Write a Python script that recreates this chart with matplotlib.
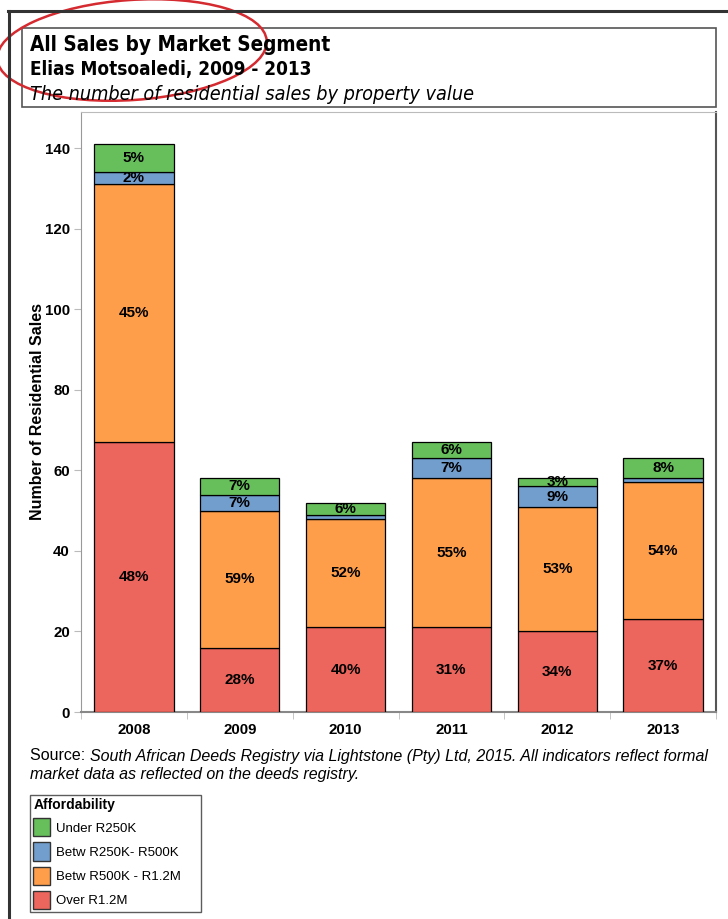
import matplotlib
matplotlib.use("Agg")
import matplotlib.pyplot as plt
from matplotlib.patches import Rectangle, Patch, Ellipse
from matplotlib.lines import Line2D
from matplotlib.transforms import IdentityTransform
import numpy as np

# data
years = ["2008", "2009", "2010", "2011", "2012", "2013"]
over_1_2m = [67, 16, 21, 21, 20, 23]
r500k_1_2m = [64, 34, 27, 37, 31, 34]
r250k_500k = [3, 4, 1, 5, 5, 1]
under_250k = [7, 4, 3, 4, 2, 5]

segment_names = ["Over R1.2M", "Betw R500K - R1.2M", "Betw R250K- R500K", "Under R250K"]
segment_colors = ["#ED665D", "#FF9E4A", "#729ECE", "#67BF5C"]

W, H = 728, 919
SANS = ["Liberation Sans", "DejaVu Sans"]
TITLE_FONT = ["DejaVu Sans"]

def fx(x):
    return x / W

def fy(y):
    return 1 - y / H

fig = plt.figure(figsize=(W / 100, H / 100), dpi=100)

# plot area
ax = fig.add_axes([fx(81), fy(712), fx(716) - fx(81), fy(112) - fy(712)])
x = np.arange(len(years))
series = [over_1_2m, r500k_1_2m, r250k_500k, under_250k]
totals = np.sum(series, axis=0)
bottom = np.zeros(len(years))
for vals, col in zip(series, segment_colors):
    vals = np.array(vals)
    ax.bar(x, vals, 0.75, bottom=bottom, color=col, edgecolor="black", linewidth=0.9, zorder=3)
    for i, v in enumerate(vals):
        if v > 1:
            pct = int(round(v / totals[i] * 100))
            ax.text(x[i], bottom[i] + v / 2, f"{pct}%", ha="center", va="center",
                    fontsize=11, fontweight="bold", family=SANS, zorder=4)
    bottom += vals

ax.set_xlim(-0.5, len(years) - 0.5)
ax.set_ylim(0, 149)
ax.set_yticks(range(0, 141, 20))
ax.set_xticks(x)
ax.set_xticklabels(years)
ax.set_xticks(np.arange(-0.5, len(years)), minor=True)
ax.tick_params(axis="x", which="major", length=0, pad=8)
ax.tick_params(axis="x", which="minor", length=5, color="#bbbbbb", direction="out")
ax.tick_params(axis="y", length=5, color="#bbbbbb", pad=3)
for lab in ax.get_xticklabels() + ax.get_yticklabels():
    lab.set_fontweight("bold")
    lab.set_fontsize(10.8)
    lab.set_family(SANS)
ax.spines["left"].set_color("#999999")
ax.spines["bottom"].set_color("#888888")
ax.spines["bottom"].set_linewidth(1.5)
ax.spines["top"].set_color("#bbbbbb")
ax.spines["right"].set_color("#555555")
ax.spines["right"].set_linewidth(1.5)
ax.set_ylabel("Number of Residential Sales", fontsize=11.5, fontweight="bold", family=SANS)
ax.yaxis.set_label_coords((45 - 81) / 635, 0.5)

# title box
fig.add_artist(Rectangle((fx(22), fy(107)), fx(716) - fx(22), fy(28) - fy(107),
                         transform=fig.transFigure, fill=False, edgecolor="#555555", linewidth=1.2))
fig.text(fx(30), fy(45), "All Sales by Market Segment", fontsize=14.9, fontweight="bold",
         fontstretch="condensed", family=TITLE_FONT, va="center", ha="left")
fig.text(fx(30), fy(70), "Elias Motsoaledi, 2009 - 2013", fontsize=13.6, fontweight="bold",
         fontstretch="condensed", family=TITLE_FONT, va="center", ha="left")
fig.text(fx(30), fy(94), "The number of residential sales by property value", fontsize=14.2,
         fontstretch="condensed", style="italic", family=TITLE_FONT, va="center", ha="left")

# source note
t1 = fig.text(fx(30), fy(756), "Source: ", fontsize=11.5, family=SANS, va="center", ha="left")
ax.annotate("South African Deeds Registry via Lightstone (Pty) Ltd, 2015. All indicators reflect formal",
            xy=(1, 0.5), xycoords=t1, va="center", ha="left", fontsize=11.5, family=SANS,
            style="italic", annotation_clip=False)
fig.text(fx(30), fy(774), "market data as reflected on the deeds registry.", fontsize=11.5, family=SANS,
         style="italic", va="center", ha="left")

# legend
handles = [Patch(facecolor=c, edgecolor="#333333", linewidth=1) for c in segment_colors[::-1]]
leg = fig.legend(handles, segment_names[::-1], title="Affordability", loc="upper left",
                 bbox_to_anchor=(fx(30), fy(912), fx(201) - fx(30), fy(795) - fy(912)),
                 mode="expand", frameon=True, fancybox=False,
                 prop={"family": ["Liberation Sans Narrow", "Liberation Sans"], "size": 9.5},
                 title_fontproperties={"family": SANS, "weight": "bold", "size": 10},
                 handlelength=1.25, handleheight=1.75, labelspacing=0.45, handletextpad=0.45,
                 borderpad=0.25, borderaxespad=0, alignment="left")
leg.get_frame().set_edgecolor("#333333")
leg.get_frame().set_linewidth(1)

# outer frame
fig.add_artist(Line2D([fx(8), 1], [fy(11), fy(11)], color="#333333", linewidth=2.2))
fig.add_artist(Line2D([fx(9), fx(9)], [fy(11), 0], color="#333333", linewidth=2.2))

# hand-drawn red ellipse around the title
fig.add_artist(Ellipse((132, H - 50), 270, 100, angle=4, transform=IdentityTransform(),
                       fill=False, edgecolor="#D42A30", linewidth=1.8, clip_on=False))

fig.savefig("out.png", dpi=100)
